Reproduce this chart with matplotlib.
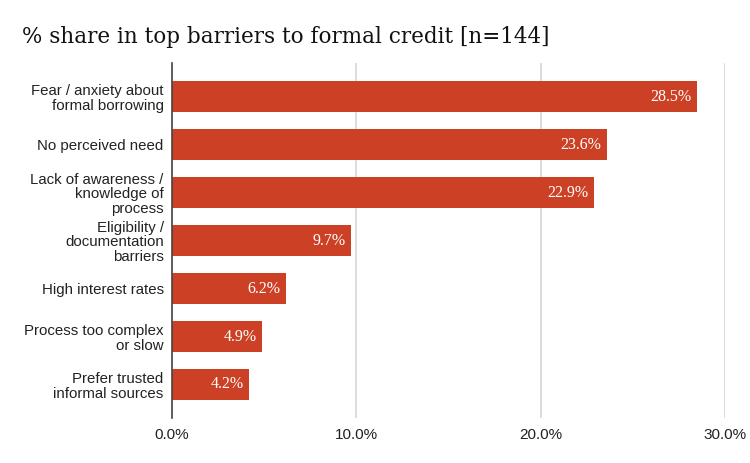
import matplotlib
matplotlib.use("Agg")
import matplotlib.pyplot as plt
from matplotlib.ticker import FuncFormatter

categories = [
    "Fear / anxiety about\nformal borrowing",
    "No perceived need",
    "Lack of awareness /\nknowledge of\nprocess",
    "Eligibility /\ndocumentation\nbarriers",
    "High interest rates",
    "Process too complex\nor slow",
    "Prefer trusted\ninformal sources",
]
shares = [28.5, 23.6, 22.9, 9.7, 6.2, 4.9, 4.2]
x_ticks = [0, 10, 20, 30]

bar_color = "#cc4125"

fig = plt.figure(figsize=(7.5, 4.63), dpi=100)
ax = fig.add_axes([0.2293, 0.097, 0.7374, 0.767])

pos = list(range(len(categories)))
ax.barh(pos, shares, height=0.65, color=bar_color, zorder=3)

for p, v in zip(pos, shares):
    ax.text(v - 0.3, p, f"{v:.1f}%", ha="right", va="center", color="white",
            fontsize=11.5, family="Liberation Serif", zorder=4)

ax.set_ylim(6.7, -0.7)
ax.set_xlim(0, 30)
ax.set_yticks(pos)
ax.set_yticklabels(categories, fontsize=10.8, family="Liberation Sans", color="#222222",
                   linespacing=1.05)
ax.set_xticks(x_ticks)
ax.xaxis.set_major_formatter(FuncFormatter(lambda v, _: f"{v:.1f}%"))
for lab in ax.get_xticklabels():
    lab.set_family("Liberation Sans")
    lab.set_fontsize(11)
    lab.set_color("#222222")

ax.tick_params(axis="y", length=0, pad=6)
ax.tick_params(axis="x", length=0, pad=7)
ax.grid(axis="x", color="#d9d9d9", linewidth=1.3, zorder=0)
for s in ["top", "right", "bottom"]:
    ax.spines[s].set_visible(False)
ax.spines["left"].set_color("#444444")
ax.spines["left"].set_linewidth(1.2)
ax.spines["left"].set_zorder(5)

fig.text(0.03, 0.92, "% share in top barriers to formal credit [n=144]",
         fontsize=15.5, family="DejaVu Serif", color="#111111", va="center")

fig.savefig("out.png", dpi=100)
